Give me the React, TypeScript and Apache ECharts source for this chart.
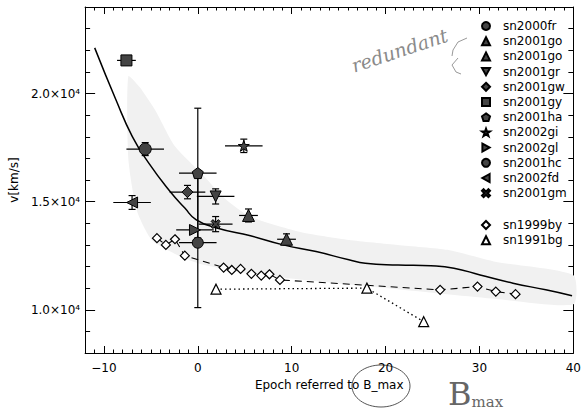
import React, { useEffect, useRef } from 'react';
import * as echarts from 'echarts';

const FONT = 'DejaVu Sans';

// [epoch, velocity, epochErr, velocityErr]
const sn2000fr = [[-5.6, 17430, 2, 300]];
const sn2001go_a = [[5.4, 14360, 1, 300]];
const sn2001go_b = [[9.45, 13260, 1, 250]];
const sn2001gr = [[1.9, 15240, 2, 350]];
const sn2001gw = [[-1.1, 15440, 1.9, 310]];
const sn2001gy = [[-7.6, 21530, 1, 200]];
const sn2001ha = [[0, 16320, 2, 3000]];
const sn2002gi = [[4.9, 17580, 2, 310]];
const sn2002gl = [[-0.3, 13690, 2, 0]];
const sn2001hc = [[0, 13100, 2, 3000]];
const sn2002fd = [[-7.0, 14960, 2, 320]];
const sn2001gm = [[1.9, 13960, 1.8, 350]];

const sn1999by = [
  [-4.35, 13310], [-3.4, 13000], [-2.43, 13260], [-1.38, 12500], [2.75, 11950],
  [3.62, 11840], [4.56, 11890], [5.71, 11660], [6.76, 11580], [7.63, 11640],
  [8.75, 11380], [25.81, 10920], [29.79, 11070], [31.74, 10840], [33.84, 10720],
];
const sn1991bg = [[1.94, 10950], [18.01, 11000], [24.06, 9450]];

const curve = [
  [-10.98, 22110], [-8.72, 19710], [-6.97, 18010], [-5.22, 16780], [-2.95, 15470],
  [-1.38, 14700], [-0.16, 14160], [2.12, 13770], [5.61, 13420], [9.1, 13000],
  [12.6, 12690], [16.09, 12310], [17.84, 12150], [21.33, 12070], [24.82, 12030],
  [27.28, 11920], [30.07, 11610], [33.57, 11230], [37.06, 10920], [39.86, 10650],
];

const bandUpper = [
  [-7.4, 20800], [-6.2, 20300], [-4.5, 19200], [-2.5, 17600], [0.4, 16300],
  [3, 15100], [5.6, 14300], [10.9, 13600], [16.1, 13230], [21.3, 13000],
  [26.6, 12770], [31.8, 12210], [40, 11600],
];
const bandLower = [
  [-7.4, 17000], [-6.5, 14600], [-4.9, 13230], [-2, 12500], [0.4, 12100],
  [5.6, 11650], [10.9, 11400], [21.3, 10950], [31.8, 10500], [40, 10250],
];

const SYM = {
  down: 'path://M0,0L10,0L5,9Z',
  right: 'path://M0,0L9,5L0,10Z',
  left: 'path://M9,0L0,5L9,10Z',
  pent: 'path://M5,0L10,3.6L8.1,9.5L1.9,9.5L0,3.6Z',
  star: 'path://M5,0L6.2,3.4L9.8,3.4L6.9,5.6L8,9L5,7L2,9L3.1,5.6L0.2,3.4L3.8,3.4Z',
  cross: 'path://M0,2L2,0L5,3L8,0L10,2L7,5L10,8L8,10L5,7L2,10L0,8L3,5Z',
};

const points = [
  { name: 'sn2000fr', data: sn2000fr, symbol: 'circle', size: 12 },
  { name: 'sn2001go', data: sn2001go_a, symbol: 'triangle', size: 12 },
  { name: 'sn2001go ', data: sn2001go_b, symbol: 'triangle', size: 12 },
  { name: 'sn2001gr', data: sn2001gr, symbol: SYM.down, size: 11 },
  { name: 'sn2001gw', data: sn2001gw, symbol: 'diamond', size: 11 },
  { name: 'sn2001gy', data: sn2001gy, symbol: 'rect', size: 11 },
  { name: 'sn2001ha', data: sn2001ha, symbol: SYM.pent, size: 11 },
  { name: 'sn2002gi', data: sn2002gi, symbol: SYM.star, size: 11 },
  { name: 'sn2002gl', data: sn2002gl, symbol: SYM.right, size: 11 },
  { name: 'sn2001hc', data: sn2001hc, symbol: 'circle', size: 11 },
  { name: 'sn2002fd', data: sn2002fd, symbol: SYM.left, size: 11 },
  { name: 'sn2001gm', data: sn2001gm, symbol: SYM.cross, size: 9 },
];

const axisCommon = {
  axisLine: { show: true, onZero: false, lineStyle: { color: '#000', width: 1 } },
  axisTick: { show: true, inside: true, length: 7, lineStyle: { color: '#000' } },
  splitLine: { show: false },
};

export default function App() {
  const ref = useRef<HTMLDivElement>(null);
  useEffect(() => {
    document.body.style.margin = '0';
    const chart = echarts.init(ref.current!, null, { renderer: 'svg' });

    const errSeries = {
      type: 'custom',
      z: 2,
      silent: true,
      xAxisIndex: 0,
      yAxisIndex: 0,
      data: points.flatMap((p) => p.data),
      encode: { x: 0, y: 1 },
      renderItem: (params: any, api: any) => {
        const x = api.value(0), y = api.value(1), ex = api.value(2), ey = api.value(3);
        const c = api.coord([x, y]);
        const children: any[] = [];
        const st = { stroke: '#000', lineWidth: 1.2 };
        if (ex > 0) {
          const l = api.coord([x - ex, y]);
          const r = api.coord([x + ex, y]);
          children.push({ type: 'line', shape: { x1: l[0], y1: c[1], x2: r[0], y2: c[1] }, style: st });
        }
        if (ey > 0) {
          const t = api.coord([x, y + ey]);
          const b = api.coord([x, y - ey]);
          children.push({ type: 'line', shape: { x1: c[0], y1: t[1], x2: c[0], y2: b[1] }, style: st });
          children.push({ type: 'line', shape: { x1: c[0] - 3.5, y1: t[1], x2: c[0] + 3.5, y2: t[1] }, style: st });
          children.push({ type: 'line', shape: { x1: c[0] - 3.5, y1: b[1], x2: c[0] + 3.5, y2: b[1] }, style: st });
        }
        return { type: 'group', children };
      },
    };

    const bandSeries = {
      type: 'custom',
      z: 1,
      silent: true,
      data: [[0, 15000]],
      encode: { x: 0, y: 1 },
      renderItem: (params: any, api: any) => {
        const pts: number[][] = [];
        bandUpper.forEach((p) => pts.push(api.coord(p)));
        for (let i = bandLower.length - 1; i >= 0; i--) pts.push(api.coord(bandLower[i]));
        return { type: 'polygon', shape: { points: pts, smooth: 0.2 }, style: { fill: '#f1f1f1' } };
      },
    };

    const option: any = {
      animation: false,
      textStyle: { fontFamily: FONT },
      grid: { left: 82, right: 7, top: 7, bottom: 62 },
      legend: [
        {
          left: 481, top: 19.5, orient: 'vertical', padding: 0,
          itemWidth: 8, itemHeight: 8, itemGap: 2.2,
          data: points.map((p) => p.name),
          formatter: (n: string) => n.trim(),
          textStyle: { fontFamily: FONT, fontSize: 12, lineHeight: 13, color: '#000', padding: [0, 0, 0, 8] },
        },
        {
          left: 481, top: 218.5, orient: 'vertical', padding: 0,
          itemWidth: 8, itemHeight: 8, itemGap: 2.2,
          data: ['sn1999by', 'sn1991bg'],
          textStyle: { fontFamily: FONT, fontSize: 12, lineHeight: 13, color: '#000', padding: [0, 0, 0, 8] },
        },
      ],
      xAxis: [
        {
          ...axisCommon,
          type: 'value', min: -12, max: 40, splitNumber: 5, minInterval: 10, maxInterval: 10,
          position: 'bottom',
          name: 'Epoch referred to B_max', nameLocation: 'middle', nameGap: 24,
          nameTextStyle: { fontFamily: FONT, fontSize: 12, color: '#000' },
          minorTick: { show: true, splitNumber: 10, length: 3.5, lineStyle: { color: '#000' } },
          axisLabel: {
            margin: 9, fontSize: 12, color: '#000', fontFamily: FONT, showMinLabel: false,
            formatter: (v: number) => String(v).replace('-', '\u2212'),
          },
        },
        {
          ...axisCommon,
          type: 'value', min: -12, max: 40, splitNumber: 5, minInterval: 10, maxInterval: 10,
          position: 'top',
          minorTick: { show: true, splitNumber: 10, length: 3.5, lineStyle: { color: '#000' } },
          axisLabel: { show: false },
        },
      ],
      yAxis: [
        {
          ...axisCommon,
          type: 'value', min: 8000, max: 24000, splitNumber: 3, minInterval: 5000, maxInterval: 5000,
          position: 'left',
          axisTick: { show: true, inside: true, length: 10, lineStyle: { color: '#000' } },
          name: 'v[km/s]', nameLocation: 'middle', nameGap: 59,
          nameTextStyle: { fontFamily: FONT, fontSize: 12, color: '#000' },
          minorTick: { show: true, splitNumber: 5, length: 5, lineStyle: { color: '#000' } },
          axisLabel: {
            margin: 5, fontSize: 12, color: '#000', fontFamily: FONT,
            showMinLabel: false, showMaxLabel: false,
            formatter: (v: number) => (v / 10000).toFixed(1) + '\u00d710\u2074',
          },
        },
        {
          ...axisCommon,
          type: 'value', min: 8000, max: 24000, splitNumber: 3, minInterval: 5000, maxInterval: 5000,
          position: 'right',
          axisTick: { show: true, inside: true, length: 10, lineStyle: { color: '#000' } },
          minorTick: { show: true, splitNumber: 5, length: 5, lineStyle: { color: '#000' } },
          axisLabel: { show: false },
        },
      ],
      series: [
        bandSeries,
        {
          type: 'line', data: curve, smooth: true, showSymbol: false, symbol: 'none', silent: true,
          lineStyle: { color: '#000', width: 1.5 }, z: 2,
        },
        {
          type: 'line', data: sn1999by, showSymbol: false, symbol: 'none', silent: true,
          lineStyle: { color: '#000', width: 1.1, type: [7, 5] }, z: 2,
        },
        {
          type: 'line', data: sn1991bg, showSymbol: false, symbol: 'none', silent: true,
          lineStyle: { color: '#000', width: 1.3, type: [1.5, 3] }, z: 2,
        },
        errSeries,
        ...points.map((p) => ({
          type: 'scatter', name: p.name, data: p.data.map((d) => [d[0], d[1]]),
          symbol: p.symbol, symbolSize: p.size, z: 4,
          itemStyle: { color: '#444', borderColor: '#000', borderWidth: 1, opacity: 1 },
        })),
        {
          type: 'scatter', name: 'sn1999by', data: sn1999by, symbol: 'diamond', symbolSize: 9, z: 4,
          itemStyle: { color: '#fff', borderColor: '#000', borderWidth: 1.2, opacity: 1 },
        },
        {
          type: 'scatter', name: 'sn1991bg', data: sn1991bg, symbol: 'triangle', symbolSize: 10, z: 4,
          itemStyle: { color: '#fff', borderColor: '#000', borderWidth: 1.2, opacity: 1 },
        },
      ],
      graphic: [
        {
          type: 'text', x: 352, y: 66, rotation: 0.32, silent: true,
          style: { text: 'redundant', fontSize: 19, fontFamily: 'DejaVu Serif', fontStyle: 'italic', fill: '#8a8a8a', verticalAlign: 'middle' },
        },
        {
          type: 'polyline', silent: true,
          shape: { points: [[467, 38], [458, 42], [453, 50], [452, 56]] },
          style: { stroke: '#999', lineWidth: 1, fill: 'none' },
        },
        {
          type: 'polyline', silent: true,
          shape: { points: [[458, 58], [452, 65], [456, 72], [461, 74]] },
          style: { stroke: '#999', lineWidth: 1, fill: 'none' },
        },
        {
          type: 'ellipse', silent: true,
          shape: { cx: 381, cy: 386, rx: 29, ry: 21 },
          style: { fill: 'none', stroke: '#555', lineWidth: 1 },
        },
        {
          type: 'text', x: 448, y: 378, silent: true,
          style: {
            text: '{b|B}{m|max}', fill: '#666',
            rich: {
              b: { fontSize: 32, fontFamily: 'DejaVu Serif', fill: '#666' },
              m: { fontSize: 15, fontFamily: 'DejaVu Serif', fill: '#666', padding: [16, 0, 0, 0] },
            },
          },
        },
      ],
    };
    chart.setOption(option);
    return () => chart.dispose();
  }, []);
  return <div ref={ref} style={{ width: 584, height: 415 }} />;
}
